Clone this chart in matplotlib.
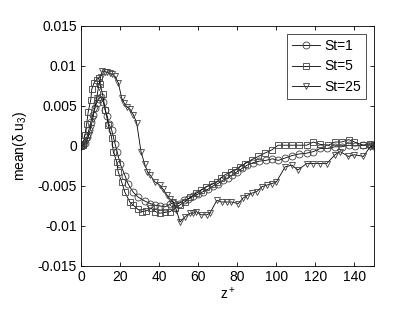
import matplotlib
matplotlib.use('Agg')
import matplotlib.pyplot as plt

plt.rcParams['font.family'] = ['Liberation Sans', 'DejaVu Sans']
plt.rcParams['mathtext.fontset'] = 'custom'
plt.rcParams['mathtext.rm'] = 'Liberation Sans'
plt.rcParams['mathtext.it'] = 'Liberation Sans'

# St=1 (circles)
z1 = [0, 1, 2, 3, 4, 5, 6, 7, 8, 9, 10, 11.4, 12.3, 13.5, 14.2, 15.7, 17.4, 18.6, 20, 22.5,
      24.2, 26.8, 29.3, 32.8, 35.5, 37.9, 40.5, 43, 45.5, 47.3, 50, 52.5, 55, 57.5, 60, 62.5,
      65, 67.5, 70, 72.5, 75, 77.5, 80, 82.5, 85, 88, 91, 94.5, 98, 101, 104.5, 108, 111.5,
      115.5, 119, 122.5, 126, 130, 133.5, 137, 140.5, 144.5, 148, 150]
u1 = [0, 0.0001, 0.0004, 0.0011, 0.002, 0.003, 0.0039, 0.0047, 0.0054, 0.0059, 0.0061, 0.0055,
      0.0045, 0.0037, 0.0028, 0.002, 0.0003, -0.0008, -0.0022, -0.0037, -0.0048, -0.0058,
      -0.0064, -0.0069, -0.0072, -0.0074, -0.0075, -0.0076, -0.0073, -0.0071, -0.0072, -0.0068,
      -0.0066, -0.0063, -0.006, -0.0057, -0.0054, -0.005, -0.0047, -0.0043, -0.004, -0.0036,
      -0.0032, -0.0028, -0.0024, -0.0021, -0.0019, -0.0018, -0.0016, -0.0018, -0.0015, -0.0012,
      -0.001, -0.0009, -0.0007, -0.0003, -0.0003, -0.0001, -0.0001, 0.0001, 0.0, 0.0001, 0.0001, 0.0]

# St=5 (squares)
z5 = [0, 1, 2, 2.9, 3.7, 5, 5.5, 6.7, 8, 9, 9.7, 11, 12.5, 14, 15.7, 16.5, 18.3, 19, 20.8, 22.5,
      25, 26.8, 29, 31, 33.5, 36, 38, 40.4, 43, 45.6, 48, 50.5, 53, 56, 59, 61.5, 64, 67, 69.5,
      71.5, 73.7, 77, 79, 81.4, 84, 87.4, 90.8, 94, 97.6, 101, 104.5, 108, 111.5, 115.6, 119,
      122.5, 126.7, 130, 133.5, 137, 140, 144.6, 148, 150]
u5 = [0, 0.0001, 0.0014, 0.0028, 0.0043, 0.0058, 0.0071, 0.0079, 0.0083, 0.0085, 0.0078, 0.0065,
      0.0045, 0.0026, 0.001, -0.0007, -0.002, -0.0032, -0.0045, -0.0058, -0.007, -0.0074,
      -0.0079, -0.0082, -0.0081, -0.0078, -0.0082, -0.0084, -0.0083, -0.0082, -0.0078, -0.0074,
      -0.007, -0.0064, -0.0059, -0.0055, -0.0051, -0.0048, -0.0045, -0.004, -0.0036, -0.0032,
      -0.003, -0.0026, -0.0022, -0.0017, -0.0013, -0.0009, -0.0005, 0.0001, 0.0001, 0.0001,
      0.0001, 0.0001, 0.0005, 0.0002, 0.0001, 0.0005, 0.0005, 0.0008, 0.0005, 0.0001, 0.0003, 0.0001]

# St=25 (triangles)
z25 = [0, 1, 2, 3, 4, 5, 6, 7, 8, 9, 10, 10.9, 12.2, 13.5, 14.6, 15.7, 17.4, 19.1, 20.8, 22,
       23.4, 25.1, 26.8, 28.5, 30.7, 32.5, 34, 35.3, 37.9, 40.4, 42, 43.9, 45.5, 47.3, 48.8,
       50.7, 53, 55.8, 57.5, 59, 61.5, 64.4, 66, 69.5, 72, 74.5, 77, 80.5, 83, 85, 87.4, 90,
       92.5, 95, 97.6, 100, 104.5, 108, 111, 115.5, 119, 122.4, 125.8, 130, 132.6, 136.9, 140,
       144.6, 148, 150]
u25 = [0, 0.0001, 0.0003, 0.0007, 0.0014, 0.0023, 0.0034, 0.0046, 0.006, 0.0074, 0.0086, 0.0094,
       0.0093, 0.0092, 0.0091, 0.009, 0.0087, 0.0079, 0.006, 0.0054, 0.0049, 0.0046, 0.0039,
       0.0029, -0.0007, -0.0022, -0.0032, -0.0036, -0.0045, -0.0049, -0.0054, -0.0061, -0.0066,
       -0.007, -0.008, -0.0095, -0.0089, -0.0084, -0.0084, -0.0082, -0.0086, -0.0086, -0.0084,
       -0.0068, -0.007, -0.007, -0.007, -0.0072, -0.0065, -0.0062, -0.0059, -0.0057, -0.0051,
       -0.0049, -0.0047, -0.0045, -0.0026, -0.0024, -0.003, -0.0022, -0.0022, -0.0022, -0.0022,
       -0.0011, -0.0007, -0.0013, -0.0011, -0.0013, -0.0001, 0.0]

xticks = [0, 20, 40, 60, 80, 100, 120, 140]
yticks = [-0.015, -0.01, -0.005, 0, 0.005, 0.01, 0.015]
ytick_labels = ['-0.015', '-0.01', '-0.005', '0', '0.005', '0.01', '0.015']

fig = plt.figure(figsize=(4.14, 3.11), dpi=100)
ax = fig.add_axes([0.1957, 0.1447, 0.7077, 0.7717])

style = dict(color='black', lw=0.6, mfc='none', mec='#404040', mew=0.6, ms=5)
ax.plot(z1, u1, marker='o', label='St=1', **style)
ax.plot(z5, u5, marker='s', label='St=5', **style)
ax.plot(z25, u25, marker='v', label='St=25', **style)

ax.set_xlim(0, 150)
ax.set_ylim(-0.015, 0.015)
ax.set_xticks(xticks)
ax.set_yticks(yticks)
ax.set_yticklabels(ytick_labels)
ax.tick_params(direction='in', top=True, right=True, labelsize=10, length=3, width=0.6, pad=3)
for s in ax.spines.values():
    s.set_linewidth(0.6)

ax.set_xlabel('z$^+$', fontsize=10, labelpad=1)
ax.set_ylabel('mean($\\delta$ u$_3$)', fontsize=10, labelpad=6)

leg = ax.legend(loc='upper right', fontsize=10, frameon=True, fancybox=False,
                edgecolor='black', handlelength=2.0, borderaxespad=0.6,
                labelspacing=0.45, handletextpad=0.3, borderpad=0.35)
leg.get_frame().set_linewidth(0.6)

fig.savefig('out.png', dpi=100)
